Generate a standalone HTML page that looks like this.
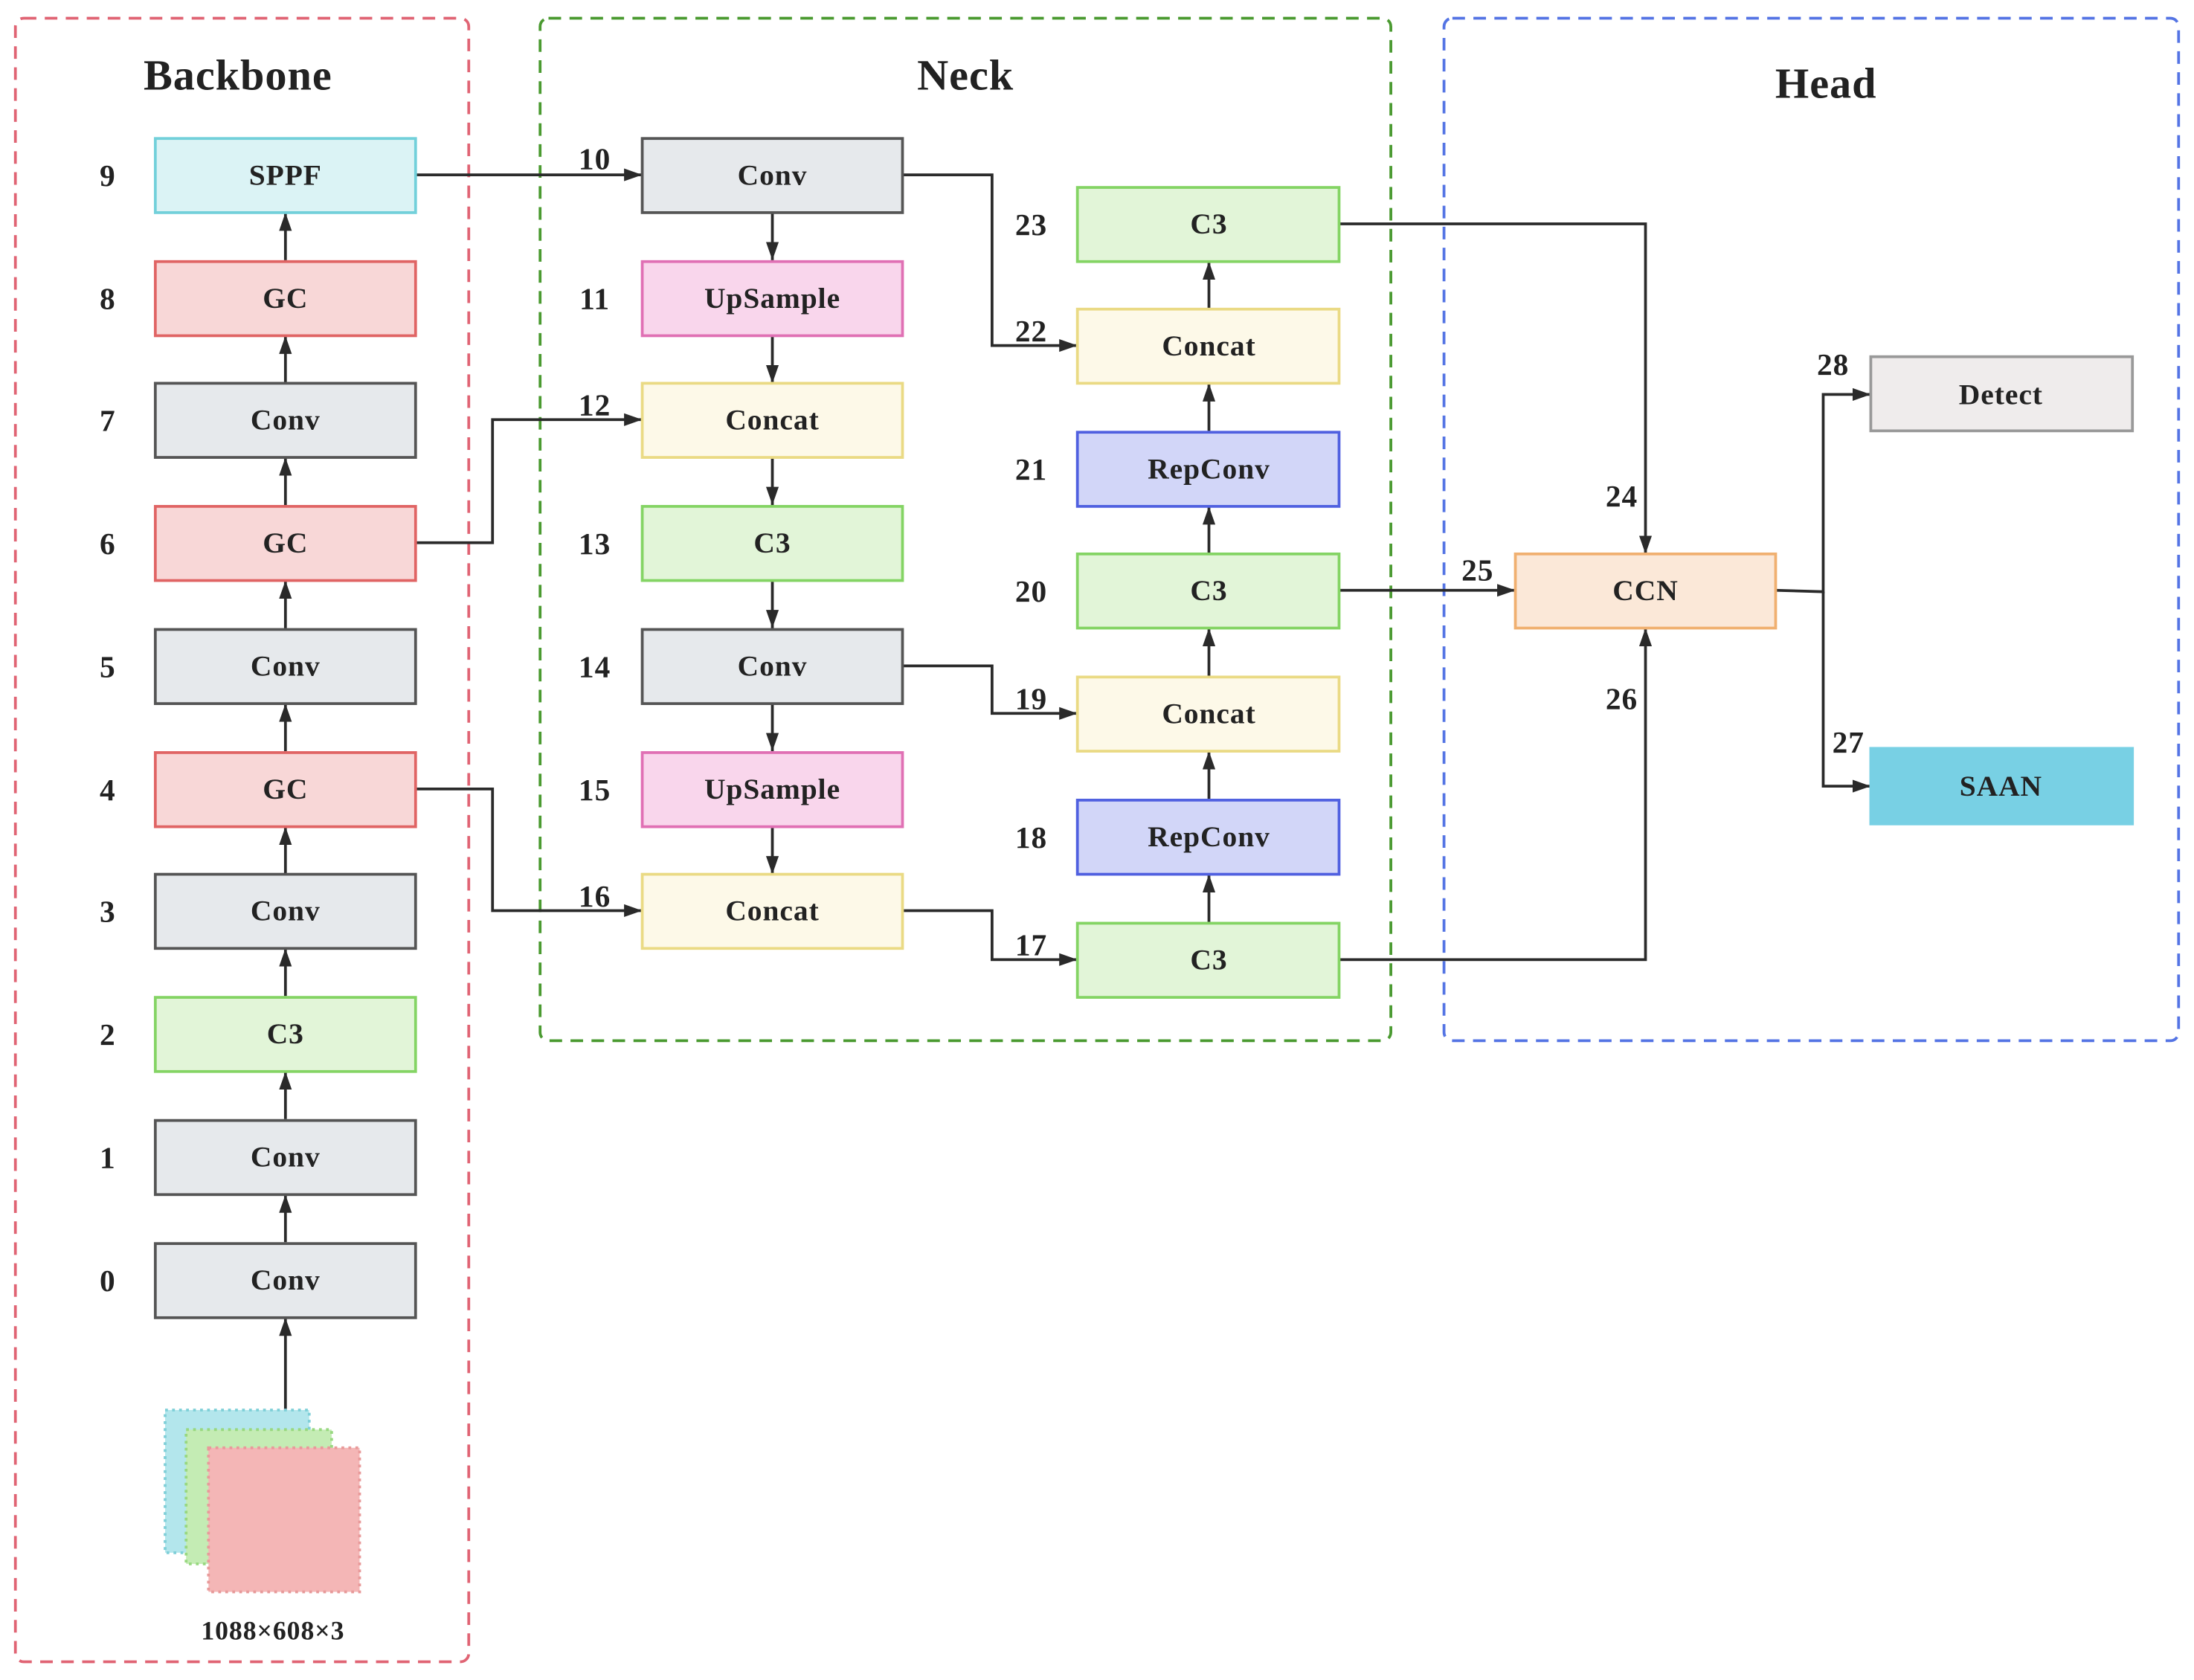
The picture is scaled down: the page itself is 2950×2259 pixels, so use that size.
<!DOCTYPE html>
<html><head><meta charset="utf-8"><style>html,body{margin:0;padding:0;background:#fff}svg{display:block}svg text{font-family:"Liberation Serif","DejaVu Serif",serif;font-weight:bold;letter-spacing:0.5px}</style></head>
<body>
<svg width="2950" height="2259" viewBox="0 0 1568 1201" preserveAspectRatio="none" xmlns="http://www.w3.org/2000/svg">
<defs>
<marker id="b" viewBox="0 0 10 10" refX="10" refY="5" markerWidth="13" markerHeight="13" orient="auto" markerUnits="userSpaceOnUse"><path d="M0,1.5 L10,5 L0,8.5 z" fill="#2a2a2a"/></marker>
</defs>
<rect x="0" y="0" width="1568" height="1201" fill="#fff"/>
<rect x="11" y="13" width="324" height="1175" rx="6" fill="none" stroke="#e06474" stroke-width="2" stroke-dasharray="9,6"/>
<rect x="386" y="13" width="608" height="731" rx="6" fill="none" stroke="#4a9a30" stroke-width="2" stroke-dasharray="9,6"/>
<rect x="1032" y="13" width="525" height="731" rx="6" fill="none" stroke="#5474e4" stroke-width="2" stroke-dasharray="9,6"/>
<g font-size="31" fill="#222" text-anchor="middle">
<text x="170" y="64">Backbone</text>
<text x="690" y="64">Neck</text>
<text x="1305" y="70">Head</text>
</g>
<g stroke="#2a2a2a" stroke-width="2" fill="none">
<line x1="204" y1="1008" x2="204" y2="942" marker-end="url(#b)"/>
<line x1="204" y1="888" x2="204" y2="854" marker-end="url(#b)"/>
<line x1="204" y1="800" x2="204" y2="766" marker-end="url(#b)"/>
<line x1="204" y1="712" x2="204" y2="678" marker-end="url(#b)"/>
<line x1="204" y1="625" x2="204" y2="591" marker-end="url(#b)"/>
<line x1="204" y1="537" x2="204" y2="503" marker-end="url(#b)"/>
<line x1="204" y1="449" x2="204" y2="415" marker-end="url(#b)"/>
<line x1="204" y1="361" x2="204" y2="327" marker-end="url(#b)"/>
<line x1="204" y1="274" x2="204" y2="240" marker-end="url(#b)"/>
<line x1="204" y1="186" x2="204" y2="152" marker-end="url(#b)"/>
<line x1="552" y1="152" x2="552" y2="186" marker-end="url(#b)"/>
<line x1="552" y1="240" x2="552" y2="274" marker-end="url(#b)"/>
<line x1="552" y1="327" x2="552" y2="361" marker-end="url(#b)"/>
<line x1="552" y1="415" x2="552" y2="449" marker-end="url(#b)"/>
<line x1="552" y1="503" x2="552" y2="537" marker-end="url(#b)"/>
<line x1="552" y1="591" x2="552" y2="625" marker-end="url(#b)"/>
<line x1="864" y1="659" x2="864" y2="625" marker-end="url(#b)"/>
<line x1="864" y1="571" x2="864" y2="537" marker-end="url(#b)"/>
<line x1="864" y1="483" x2="864" y2="449" marker-end="url(#b)"/>
<line x1="864" y1="396" x2="864" y2="362" marker-end="url(#b)"/>
<line x1="864" y1="308" x2="864" y2="274" marker-end="url(#b)"/>
<line x1="864" y1="221" x2="864" y2="187" marker-end="url(#b)"/>
<polyline points="297,125 459,125" marker-end="url(#b)"/>
<polyline points="297,388 352,388 352,300 459,300" marker-end="url(#b)"/>
<polyline points="297,564 352,564 352,651 459,651" marker-end="url(#b)"/>
<polyline points="645,125 709,125 709,247 770,247" marker-end="url(#b)"/>
<polyline points="645,476 709,476 709,510 770,510" marker-end="url(#b)"/>
<polyline points="645,651 709,651 709,686 770,686" marker-end="url(#b)"/>
<polyline points="957,160 1176,160 1176,396" marker-end="url(#b)"/>
<polyline points="957,422 1083,422" marker-end="url(#b)"/>
<polyline points="957,686 1176,686 1176,449" marker-end="url(#b)"/>
<polyline points="1269,422 1303,423 1303,282 1337,282" marker-end="url(#b)"/>
<polyline points="1303,423 1303,562 1337,562" marker-end="url(#b)"/>
</g>
<rect x="118" y="1008" width="103" height="102" fill="#b3e6ec" stroke="#7fcfd8" stroke-width="2" stroke-dasharray="2,3"/>
<rect x="133" y="1022" width="104" height="96" fill="#c4ecb4" stroke="#98d880" stroke-width="2" stroke-dasharray="2,3"/>
<rect x="149" y="1035" width="108" height="103" fill="#f4b6b6" stroke="#e89a9a" stroke-width="2" stroke-dasharray="2,3"/>
<text x="195" y="1172" font-size="19" text-anchor="middle" fill="#222">1088×608×3</text>
<g stroke-width="2">
<rect x="111" y="99" width="186" height="53" fill="#dbf3f5" stroke="#72d0da"/>
<rect x="111" y="187" width="186" height="53" fill="#f8d7d7" stroke="#e06464"/>
<rect x="111" y="274" width="186" height="53" fill="#e6e9ec" stroke="#555"/>
<rect x="111" y="362" width="186" height="53" fill="#f8d7d7" stroke="#e06464"/>
<rect x="111" y="450" width="186" height="53" fill="#e6e9ec" stroke="#555"/>
<rect x="111" y="538" width="186" height="53" fill="#f8d7d7" stroke="#e06464"/>
<rect x="111" y="625" width="186" height="53" fill="#e6e9ec" stroke="#555"/>
<rect x="111" y="713" width="186" height="53" fill="#e2f5d8" stroke="#84d464"/>
<rect x="111" y="801" width="186" height="53" fill="#e6e9ec" stroke="#555"/>
<rect x="111" y="889" width="186" height="53" fill="#e6e9ec" stroke="#555"/>
<rect x="459" y="99" width="186" height="53" fill="#e6e9ec" stroke="#555"/>
<rect x="459" y="187" width="186" height="53" fill="#f9d6ec" stroke="#e070b4"/>
<rect x="459" y="274" width="186" height="53" fill="#fdf9e8" stroke="#eada84"/>
<rect x="459" y="362" width="186" height="53" fill="#e2f5d8" stroke="#84d464"/>
<rect x="459" y="450" width="186" height="53" fill="#e6e9ec" stroke="#555"/>
<rect x="459" y="538" width="186" height="53" fill="#f9d6ec" stroke="#e070b4"/>
<rect x="459" y="625" width="186" height="53" fill="#fdf9e8" stroke="#eada84"/>
<rect x="770" y="134" width="187" height="53" fill="#e2f5d8" stroke="#84d464"/>
<rect x="770" y="221" width="187" height="53" fill="#fdf9e8" stroke="#eada84"/>
<rect x="770" y="309" width="187" height="53" fill="#d2d6f8" stroke="#5060e0"/>
<rect x="770" y="396" width="187" height="53" fill="#e2f5d8" stroke="#84d464"/>
<rect x="770" y="484" width="187" height="53" fill="#fdf9e8" stroke="#eada84"/>
<rect x="770" y="572" width="187" height="53" fill="#d2d6f8" stroke="#5060e0"/>
<rect x="770" y="660" width="187" height="53" fill="#e2f5d8" stroke="#84d464"/>
<rect x="1083" y="396" width="186" height="53" fill="#fbe8d8" stroke="#f0b070"/>
<rect x="1337" y="255" width="187" height="53" fill="#efecec" stroke="#999"/>
<rect x="1337" y="535" width="187" height="54" fill="#78d0e4" stroke="#78d0e4"/>
</g>
<g font-size="21" fill="#222" text-anchor="middle">
<text x="204" y="132">SPPF</text><text x="204" y="220">GC</text><text x="204" y="307">Conv</text>
<text x="204" y="395">GC</text><text x="204" y="483">Conv</text><text x="204" y="571">GC</text>
<text x="204" y="658">Conv</text><text x="204" y="746">C3</text><text x="204" y="834">Conv</text><text x="204" y="922">Conv</text>
<text x="552" y="132">Conv</text><text x="552" y="220">UpSample</text><text x="552" y="307">Concat</text>
<text x="552" y="395">C3</text><text x="552" y="483">Conv</text><text x="552" y="571">UpSample</text><text x="552" y="658">Concat</text>
<text x="864" y="167">C3</text><text x="864" y="254">Concat</text><text x="864" y="342">RepConv</text>
<text x="864" y="429">C3</text><text x="864" y="517">Concat</text><text x="864" y="605">RepConv</text><text x="864" y="693">C3</text>
<text x="1176" y="429">CCN</text><text x="1430" y="289">Detect</text><text x="1430" y="569">SAAN</text>
</g>
<g font-size="22" fill="#222" text-anchor="middle">
<text x="77" y="133">9</text><text x="77" y="221">8</text><text x="77" y="308">7</text><text x="77" y="396">6</text>
<text x="77" y="484">5</text><text x="77" y="572">4</text><text x="77" y="659">3</text><text x="77" y="747">2</text>
<text x="77" y="835">1</text><text x="77" y="923">0</text>
<text x="425" y="121">10</text><text x="425" y="221">11</text><text x="425" y="297">12</text><text x="425" y="396">13</text>
<text x="425" y="484">14</text><text x="425" y="572">15</text><text x="425" y="648">16</text>
<text x="737" y="168">23</text><text x="737" y="244">22</text><text x="737" y="343">21</text><text x="737" y="430">20</text>
<text x="737" y="507">19</text><text x="737" y="606">18</text><text x="737" y="683">17</text>
<text x="1159" y="362">24</text><text x="1056" y="415">25</text><text x="1159" y="507">26</text>
<text x="1321" y="538">27</text><text x="1310" y="268">28</text>
</g>
</svg>
</body></html>
